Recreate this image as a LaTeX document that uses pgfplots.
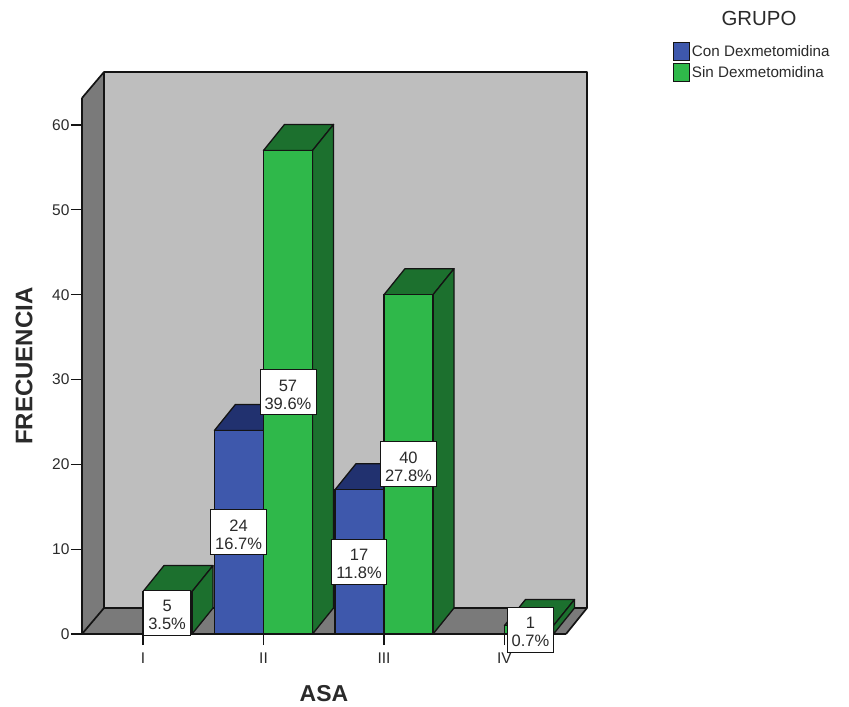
\documentclass[border=0pt]{standalone}
\usepackage{pgfplots}
\pgfplotsset{compat=1.18}
\usepackage{fontspec}
\setmainfont{Liberation Sans}
\definecolor{bluefront}{HTML}{3E58AC}
\definecolor{bluedark}{HTML}{21316F}
\definecolor{greenfront}{HTML}{2FB84A}
\definecolor{greendark}{HTML}{1C702E}
\definecolor{wallback}{HTML}{BEBEBE}
\definecolor{wallside}{HTML}{7A7A7A}
\definecolor{edge}{HTML}{141414}
\definecolor{inktext}{HTML}{2A2A2A}
\begin{document}
\begin{tikzpicture}[x=1pt,y=1pt]
\path[use as bounding box] (0,0) rectangle (849,-707);
% Box walls and floor of the 3-D frame
\fill[wallback] (104,-72) rectangle (587,-608);
\fill[wallside] (82,-98) -- (104,-72) -- (104,-608) -- (82,-634) -- cycle;
\fill[wallside] (82,-634) -- (104,-608) -- (587,-608) -- (566,-634) -- cycle;
\draw[edge,line width=1.7pt,line join=round] (82,-98) -- (104,-72) -- (587,-72) -- (587,-608) -- (566,-634);
\draw[edge,line width=1.7pt] (104,-72) -- (104,-608) -- (587,-608);
\draw[edge,line width=1.7pt] (104,-608) -- (82,-634);
\begin{axis}[
  at={(82pt,-634pt)}, anchor=origin,
  scale only axis, width=484pt, height=536pt,
  xmin=0.4938, xmax=4.5104, ymin=0, ymax=63.185,
  clip=false,
  axis x line*=bottom, axis y line*=left,
  axis line style={edge,line width=1.7pt},
  tick style={edge,line width=1.2pt},
  tick align=outside, major tick length=11pt,
  xtick={1,2,3,4}, xticklabels={I,II,III,IV},
  ytick={0,10,20,30,40,50,60},
  /pgf/number format/assume math mode=true,
  tick label style={font=\fontsize{15.5}{17}\selectfont,text=inktext},
  xticklabel style={yshift=-4pt},
  yticklabel style={xshift=2pt},
  xlabel={ASA}, ylabel={FRECUENCIA},
  x label style={font=\bfseries\fontsize{23}{25}\selectfont,text=inktext,
    at={(axis description cs:0.5,-0.1119)},anchor=center},
  y label style={font=\bfseries\fontsize{24}{26}\selectfont,text=inktext,
    at={(axis description cs:-0.1198,0.5)},anchor=center},
  legend style={at={(1.2210,1.1048)},anchor=north west,draw=none,fill=none,
    font=\fontsize{15.2}{17}\selectfont,text=inktext,
    inner sep=0pt,outer sep=0pt,row sep=2.5pt,
    /tikz/every even column/.append style={column sep=6pt}},
  legend cell align=left,
  faces/.style={draw=edge,line width=1.3pt,line join=round,forget plot},
  labelboxes/.style={only marks,mark=none,forget plot,
    point meta=explicit symbolic,
    nodes near coords={\rule{0pt}{16pt}\pgfplotspointmeta},
    every node near coord/.append style={anchor=center,align=center,
      fill=white,draw=edge,line width=0.7pt,text=inktext,
      font=\fontsize{16.5}{18}\selectfont,inner xsep=4.5pt,inner ysep=3pt,
      minimum height=45pt}},
]
% Con Dexmetomidina: top and side faces, then the front of each bar
\addplot[faces,fill=bluedark] coordinates {(1.593,24)(2,24)(2.174,27.065)(1.767,27.065)} --cycle;
\addplot[faces,fill=bluedark] coordinates {(2,0)(2.174,3.065)(2.174,27.065)(2,24)} --cycle;
\addplot[faces,fill=bluedark] coordinates {(2.593,17)(3,17)(3.174,20.065)(2.767,20.065)} --cycle;
\addplot[faces,fill=bluedark] coordinates {(3,0)(3.174,3.065)(3.174,20.065)(3,17)} --cycle;
\addplot[ybar,bar width=49pt,bar shift=-24.5pt,draw=edge,line width=1.3pt,fill=bluefront,
  legend image code/.code={\draw[draw=edge,line width=1pt,fill=bluefront] (0pt,-9pt) rectangle (16pt,9pt);}]
  coordinates {(2,24)(3,17)};
\addlegendentry{Con Dexmetomidina}
% Sin Dexmetomidina: top and side faces, then the front of each bar
\addplot[faces,fill=greendark] coordinates {(1,5)(1.407,5)(1.581,8.065)(1.174,8.065)} --cycle;
\addplot[faces,fill=greendark] coordinates {(1.407,0)(1.581,3.065)(1.581,8.065)(1.407,5)} --cycle;
\addplot[faces,fill=greendark] coordinates {(2,57)(2.407,57)(2.581,60.065)(2.174,60.065)} --cycle;
\addplot[faces,fill=greendark] coordinates {(2.407,0)(2.581,3.065)(2.581,60.065)(2.407,57)} --cycle;
\addplot[faces,fill=greendark] coordinates {(3,40)(3.407,40)(3.581,43.065)(3.174,43.065)} --cycle;
\addplot[faces,fill=greendark] coordinates {(3.407,0)(3.581,3.065)(3.581,43.065)(3.407,40)} --cycle;
\addplot[faces,fill=greendark] coordinates {(4,1)(4.407,1)(4.581,4.065)(4.174,4.065)} --cycle;
\addplot[faces,fill=greendark] coordinates {(4.407,0)(4.581,3.065)(4.581,4.065)(4.407,1)} --cycle;
\addplot[ybar,bar width=49pt,bar shift=24.5pt,draw=edge,line width=1.3pt,fill=greenfront,
  legend image code/.code={\draw[draw=edge,line width=1pt,fill=greenfront] (0pt,-9pt) rectangle (16pt,9pt);}]
  coordinates {(1,5)(2,57)(3,40)(4,1)};
\addlegendentry{Sin Dexmetomidina}
% Count and share of each bar, boxed at half its height
\addplot[labelboxes] coordinates {
  (1.2,2.5)[5\\3.5\%]
  (1.793,12)[24\\16.7\%]
  (2.203,28.5)[57\\39.6\%]
  (2.793,8.5)[17\\11.8\%]
  (3.203,20)[40\\27.8\%]
  (4.216,0.5)[1\\0.7\%]
};
\end{axis}
\node[text=inktext,font=\fontsize{20.4}{22}\selectfont] at (759,-18) {GRUPO};
\end{tikzpicture}
\end{document}
